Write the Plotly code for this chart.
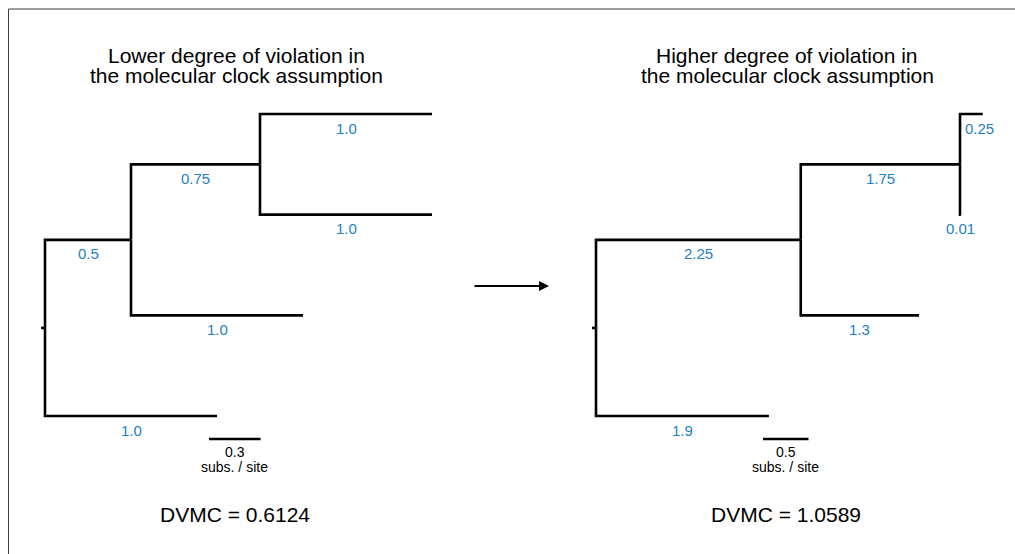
import plotly.graph_objects as go

# ---------------- data ----------------
# tree topology (node index -> parent index); tips listed top-to-bottom
parent = [-1, 0, 1, 2, 2, 1, 0]
tip_order = [3, 4, 5, 6]

left_lengths = [0.0, 0.5, 0.75, 1.0, 1.0, 1.0, 1.0]
left_labels = ["", "0.5", "0.75", "1.0", "1.0", "1.0", "1.0"]
right_lengths = [0.0, 2.25, 1.75, 0.25, 0.01, 1.3, 1.9]
right_labels = ["", "2.25", "1.75", "0.25", "0.01", "1.3", "1.9"]

left_scale = 0.3
right_scale = 0.5
scale_unit = "subs. / site"

left_title = ["Lower degree of violation in", "the molecular clock assumption"]
right_title = ["Higher degree of violation in", "the molecular clock assumption"]
left_dvmc = 0.6124
right_dvmc = 1.0589

# ---------------- layout constants (pixels) ----------------
W, H = 1015, 554
L_ROOT_PX, L_PPU = 45, 172.0     # left tree: root position, px per unit
R_ROOT_PX, R_PPU = 596, 91.0     # right tree
TIP0_PX, TIP_STEP = 114, 100.67  # tip vertical placement
STUB_PX = 4
BLUE = "#1f80c4"
FONT = "Arial, Liberation Sans, sans-serif"


def tree_coords(lengths):
    n = len(parent)
    x = [0.0] * n
    for i in range(n):
        if parent[i] >= 0:
            x[i] = x[parent[i]] + lengths[i]
    y = [None] * n
    for k, t in enumerate(tip_order):
        y[t] = float(k)
    for i in reversed(range(n)):
        if y[i] is None:
            ch = [j for j in range(n) if parent[j] == i]
            y[i] = sum(y[c] for c in ch) / len(ch)
    return x, y


def tree_traces(lengths, labels, xref, ppu):
    x, y = tree_coords(lengths)
    xs, ys = [], []
    stub = STUB_PX / ppu
    xs += [-stub, 0, None]
    ys += [y[0], y[0], None]
    for i in range(len(parent)):
        p = parent[i]
        if p < 0:
            continue
        xs += [x[p], x[p], x[i], None]
        ys += [y[p], y[i], y[i], None]
    tr = go.Scatter(x=xs, y=ys, mode="lines", xaxis=xref, yaxis="y",
                    line=dict(color="black", width=2.6), hoverinfo="skip",
                    showlegend=False)
    anns = []
    for i in range(len(parent)):
        p = parent[i]
        if p < 0:
            continue
        shift = 8 if labels[i] == "0.25" else 0
        anns.append(dict(x=(x[p] + x[i]) / 2, y=y[i], xref=xref, yref="y",
                         text=labels[i], showarrow=False, yshift=-14,
                         xshift=shift, xanchor="center",
                         font=dict(size=15, color=BLUE, family=FONT)))
    return tr, anns, x, y


ltr, lanns, lx, ly = tree_traces(left_lengths, left_labels, "x", L_PPU)
rtr, ranns, rx, ry = tree_traces(right_lengths, right_labels, "x2", R_PPU)

fig = go.Figure([ltr, rtr])

# scale bars
sb_y = (439 - TIP0_PX) / TIP_STEP
l_sb_x = (209 - L_ROOT_PX) / L_PPU
r_sb_x = (763 - R_ROOT_PX) / R_PPU
for xref, sx, sc in [("x", l_sb_x, left_scale), ("x2", r_sb_x, right_scale)]:
    fig.add_trace(go.Scatter(x=[sx, sx + sc], y=[sb_y, sb_y], mode="lines",
                             xaxis=xref, yaxis="y", hoverinfo="skip",
                             line=dict(color="black", width=2.6),
                             showlegend=False))
    lanns.append(dict(x=sx + sc / 2, y=sb_y, xref=xref, yref="y",
                      text=str(sc), showarrow=False, yshift=-13,
                      xanchor="center",
                      font=dict(size=14, color="black", family=FONT)))
    lanns.append(dict(x=sx + sc / 2, y=sb_y, xref=xref, yref="y",
                      text=scale_unit, showarrow=False, yshift=-28,
                      xanchor="center",
                      font=dict(size=14, color="black", family=FONT)))

anns = lanns + ranns

# titles
for cx, lines in [(236, left_title), (787, right_title)]:
    for k, (line, ty) in enumerate(zip(lines, [56, 76])):
        anns.append(dict(x=cx / W, y=1 - ty / H, xref="paper", yref="paper",
                         text=line, showarrow=False, xanchor="center",
                         yanchor="middle",
                         font=dict(size=21, color="black", family=FONT)))

# DVMC
for cx, v in [(235, left_dvmc), (786, right_dvmc)]:
    anns.append(dict(x=cx / W, y=1 - 514 / H, xref="paper", yref="paper",
                     text=f"DVMC = {v:.4f}", showarrow=False,
                     xanchor="center", yanchor="middle",
                     font=dict(size=21, color="black", family=FONT)))

# arrow
anns.append(dict(x=549 / W, y=1 - 286 / H, xref="paper", yref="paper",
                 ax=-76, ay=0, text="", showarrow=True, arrowhead=2,
                 arrowsize=1, arrowwidth=2, arrowcolor="black"))

# frame
shapes = [
    dict(type="line", xref="paper", yref="paper", x0=8.5 / W, x1=8.5 / W,
         y0=0, y1=1 - 9 / H, line=dict(color="#3c3c3c", width=1)),
    dict(type="line", xref="paper", yref="paper", x0=8.5 / W, x1=1,
         y0=1 - 9 / H, y1=1 - 9 / H, line=dict(color="#3c3c3c", width=1)),
]

axis_common = dict(visible=False, showgrid=False, zeroline=False,
                   fixedrange=True)
fig.update_layout(
    width=W, height=H,
    margin=dict(l=0, r=0, t=0, b=0),
    paper_bgcolor="white", plot_bgcolor="white",
    xaxis=dict(range=[-L_ROOT_PX / L_PPU, (W - L_ROOT_PX) / L_PPU],
               domain=[0, 1], **axis_common),
    xaxis2=dict(range=[-R_ROOT_PX / R_PPU, (W - R_ROOT_PX) / R_PPU],
                domain=[0, 1], overlaying="x", **axis_common),
    yaxis=dict(range=[(H - TIP0_PX) / TIP_STEP, -TIP0_PX / TIP_STEP],
               domain=[0, 1], **axis_common),
    annotations=anns,
    shapes=shapes,
    showlegend=False,
)

fig.write_html("out.html", config={"displayModeBar": False},
               post_script="document.body.style.margin='0px';"
                           "document.body.style.overflow='hidden';")
